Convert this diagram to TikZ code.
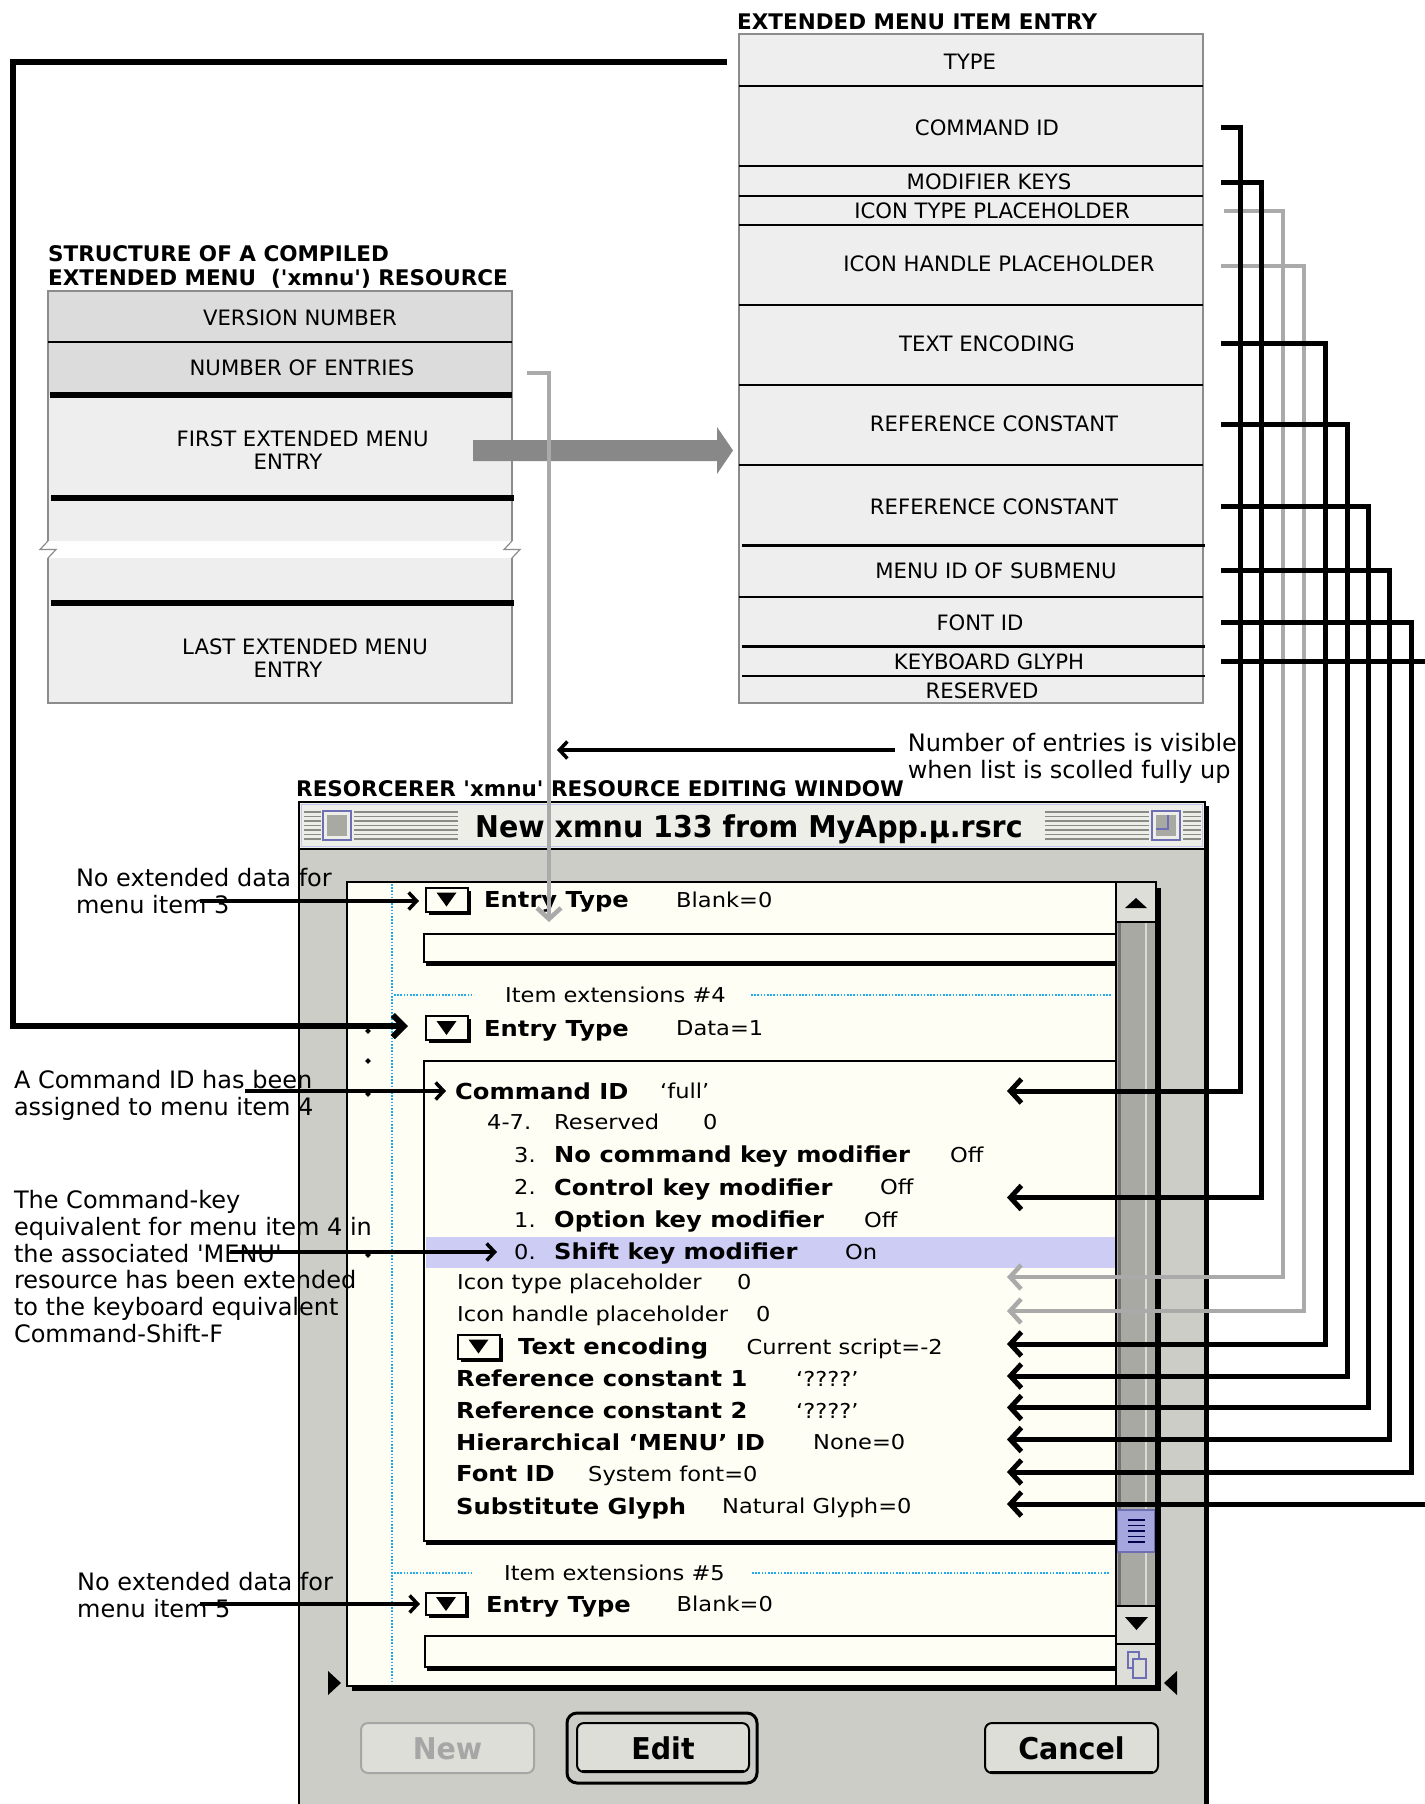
\documentclass[tikz,border=0pt]{standalone}
\usepackage{fontspec}
\newfontfamily\dvfont{DejaVu Sans}
\newfontfamily\macfont[FakeStretch=1.1]{DejaVu Sans}
\newfontfamily\condfont[FakeStretch=0.95]{DejaVu Sans}
\usetikzlibrary{arrows.meta,shadows}
\definecolor{boxfill}{HTML}{EEEEEE}
\definecolor{hdrfill}{HTML}{DCDCDC}
\definecolor{conngray}{HTML}{AAAAAA}
\definecolor{bigarrow}{HTML}{888888}
\definecolor{winbg}{HTML}{CDCDC7}
\definecolor{titlebg}{HTML}{EEEEE8}
\definecolor{lav}{HTML}{C4C4F0}
\definecolor{lavdark}{HTML}{6E6EB4}
\definecolor{cream}{HTML}{FEFEF4}
\definecolor{track}{HTML}{A9A9A3}
\definecolor{thumbc}{HTML}{A6A6DE}
\definecolor{hilite}{HTML}{CCCCF4}
\definecolor{dotcyan}{HTML}{22AAEE}
\definecolor{btnfill}{HTML}{DEDED8}
\definecolor{stripec}{HTML}{8A8A86}
\definecolor{edgec}{HTML}{8C8C8C}
\tikzset{
  boxedge/.style={draw=edgec, line width=1.2pt},
  lbl/.style={inner sep=0pt, text height=15.5pt, text depth=0pt, font=\dvfont\fontsize{21.2}{25}\selectfont},
  ttl/.style={inner sep=0pt, anchor=base west, align=left, font=\dvfont\bfseries\fontsize{21.5}{24}\selectfont},
  note/.style={inner sep=0pt, anchor=base west, align=left, font=\dvfont\fontsize{24}{26.8}\selectfont},
  wb/.style={inner sep=0pt, anchor=west, text height=16pt, text depth=0pt, font=\macfont\bfseries\fontsize{22}{24}\selectfont},
  wr/.style={inner sep=0pt, anchor=west, text height=15pt, text depth=0pt, font=\macfont\fontsize{20.5}{24}\selectfont},
  btn/.style={inner sep=0pt, text height=22pt, text depth=0pt, font=\condfont\bfseries\fontsize{30}{32}\selectfont},
  tribox/.style={draw, line width=2pt, fill=cream, minimum width=42pt, minimum height=24pt, inner sep=0pt,
    drop shadow={shadow xshift=3pt, shadow yshift=-3pt, opacity=1, fill=black}},
  fieldbox/.style={draw, line width=2pt, fill=cream, drop shadow={shadow xshift=2pt, shadow yshift=-4pt, opacity=1, fill=black}},
  stripe/.style={draw=stripec, line width=1.3pt},
  dotline/.style={draw=dotcyan, line width=2pt, dash pattern=on 1.6pt off 1.6pt},
  bconn/.style={line width=5pt, -{Straight Barb[length=11pt,width=24pt]}},
  gconn/.style={line width=4.5pt, draw=conngray, -{Straight Barb[length=11pt,width=24pt]}},
  thin arrow/.style={line width=3.5pt, -{Straight Barb[length=8pt,width=17pt]}},
}
\begin{document}
\begin{tikzpicture}[x=1pt,y=-1pt,font=\dvfont]
\useasboundingbox (0,0) rectangle (1424,1804);
\fill[white] (0,0) rectangle (1424,1804);

% ---------------- left structure box ----------------
\node[ttl] (ltitle) at (48,285.6) {STRUCTURE OF A COMPILED\\EXTENDED MENU\ \ ('xmnu') RESOURCE};
\fill[hdrfill] (48,291) rectangle (512,395);
\fill[boxfill] (48,395) rectangle (512,541);
\fill[boxfill] (48,558) rectangle (512,703);
\draw[boxedge] (48,541) -- (48,291) -- (512,291) -- (512,541);
\draw[boxedge] (48,558) -- (48,703) -- (512,703) -- (512,558);
\draw[boxedge] (48,541) -- (40,549.5) -- (56,549.5) -- (48,558);
\draw[boxedge] (512,541) -- (504,549.5) -- (520,549.5) -- (512,558);
\draw[line width=2.5pt] (48,342) -- (512,342);
\draw[line width=5.5pt] (50,395) -- (512,395);
\draw[line width=5.5pt] (51,498) -- (514,498);
\draw[line width=5.5pt] (51,603) -- (514,603);
\node[lbl] (lver) at (300,318) {VERSION NUMBER};
\node[lbl] (lnum) at (302,368) {NUMBER OF ENTRIES};
\node[lbl] (lfirstA) at (302.6,438.5) {FIRST EXTENDED MENU};
\node[lbl] (lfirstB) at (288,462) {ENTRY};
\node[lbl] (llastA) at (305,646.5) {LAST EXTENDED MENU};
\node[lbl] (llastB) at (288,670) {ENTRY};

% ---------------- right entry box ----------------
\node[ttl] (rtitle) at (737,29.8) {EXTENDED MENU ITEM ENTRY};
\fill[boxfill] (739,34) rectangle (1203,703);
\draw[boxedge] (739,34) rectangle (1203,703);
\foreach \yy in {86,166,196,225,305,385,465,597}
  \draw[line width=2.5pt] (739,\yy) -- (1203,\yy);
\foreach \yy in {545.5,646.5,676}
  \draw[line width=2.5pt] (742,\yy) -- (1205,\yy);
\node[lbl] (rType) at (970,62) {TYPE};
\node[lbl] (rCmd) at (987,128) {COMMAND ID};
\node[lbl] (rMod) at (989,182) {MODIFIER KEYS};
\node[lbl] (rIconT) at (992,211) {ICON TYPE PLACEHOLDER};
\node[lbl] (rIconH) at (999,264) {ICON HANDLE PLACEHOLDER};
\node[lbl] (rEnc) at (987,344) {TEXT ENCODING};
\node[lbl] (rRef1) at (994,424) {REFERENCE CONSTANT};
\node[lbl] (rRef2) at (994,507) {REFERENCE CONSTANT};
\node[lbl] (rMenu) at (996,571) {MENU ID OF SUBMENU};
\node[lbl] (rFont) at (980,622.5) {FONT ID};
\node[lbl] (rKey) at (989,662) {KEYBOARD GLYPH};
\node[lbl] (rRes) at (982,691) {RESERVED};

% big gray arrow
\fill[bigarrow] (473,440) -- (717,440) -- (717,427) -- (733,450.5) -- (717,474) -- (717,461) -- (473,461) -- cycle;

% ---------------- window ----------------
\node[ttl] (wlabel) at (296,796) {RESORCERER 'xmnu' RESOURCE EDITING WINDOW};
\fill[winbg] (299,802) rectangle (1205,1804);
\fill[titlebg] (300,803) rectangle (1204,848);
\draw[lav, line width=1.5pt] (301.5,804.5) rectangle (1202.5,846.5);
\foreach \yy in {812,816.5,821,825.5,830,834.5,839} {
  \draw[stripe] (304,\yy) -- (321,\yy);
  \draw[stripe] (354,\yy) -- (458,\yy);
  \draw[stripe] (1045,\yy) -- (1149,\yy);
  \draw[stripe] (1183,\yy) -- (1201,\yy);
}
\draw[line width=2pt, draw=lavdark, fill=titlebg] (323,811) rectangle (351,840);
\fill[track] (327,815) rectangle (347,836);
\draw[line width=2pt, draw=lavdark, fill=titlebg] (1152,811) rectangle (1180,840);
\fill[track] (1156,815) rectangle (1176,836);
\draw[line width=1.5pt, draw=lavdark] (1156,829) -- (1168,829) -- (1168,815);
\draw[line width=2pt] (299,1804) -- (299,802) -- (1205,802) -- (1205,1804);
\fill (1204,806) rectangle (1209,1804);
\draw[line width=2pt] (299,849) -- (1205,849);
\node[inner sep=0pt, anchor=west, text height=21.7pt, text depth=0pt, font=\condfont\bfseries\fontsize{30}{32}\selectfont] (wtitle) at (475,826.5) {New xmnu 133 from MyApp.µ.rsrc};

% list panel
\fill[cream] (347,883) rectangle (1116,1685);
\draw[dotline] (392,884) -- (392,1684);
\foreach \yy in {1031,1061,1094,1255}
  \fill (368,\yy-2.8) -- (370.8,\yy) -- (368,\yy+2.8) -- (365.2,\yy) -- cycle;

% entry 3
\node[tribox] (tb1) at (446.5,899.5) {};
\node[wb] (et1) at (484,899.5) {Entry Type};
\node[wr] (bl1) at (676,899.5) {Blank=0};
\draw[fieldbox] (424,934) rectangle (1116,962);

% entry 4
\draw[dotline] (394,994.5) -- (474,994.5);
\draw[dotline] (751,994.5) -- (1112,994.5);
\node[wr] (ie4) at (505,994.5) {Item extensions \#4};
\node[tribox] (tb2) at (446.5,1028) {};
\node[wb] (et2) at (484,1028) {Entry Type};
\node[wr] (dt1) at (676,1028) {Data=1};
\draw[fieldbox] (424,1061) rectangle (1116,1541);
\fill[hilite] (426,1237) rectangle (1115,1268);
\node[wb] (cid) at (455,1091) {Command ID};
\node[wr] (cidv) at (660,1091) {‘full’};
\node[wr] (r47) at (487,1122) {4-7.};
\node[wr] (res) at (554,1122) {Reserved};
\node[wr] (resv) at (703,1122) {0};
\node[wr] (m3n) at (514,1154.5) {3.};
\node[wb] (m3) at (554,1154.5) {No command key modifier};
\node[wr] (m3v) at (950,1154.5) {Off};
\node[wr] (m2n) at (514,1187) {2.};
\node[wb] (m2) at (554,1187) {Control key modifier};
\node[wr] (m2v) at (880,1187) {Off};
\node[wr] (m1n) at (514,1219.5) {1.};
\node[wb] (m1) at (554,1219.5) {Option key modifier};
\node[wr] (m1v) at (864,1219.5) {Off};
\node[wr] (m0n) at (514,1251.5) {0.};
\node[wb] (m0) at (554,1251.5) {Shift key modifier};
\node[wr] (m0v) at (845,1251.5) {On};
\node[wr] (itp) at (457,1282) {Icon type placeholder};
\node[wr] (itpv) at (737,1282) {0};
\node[wr] (ihp) at (457,1314) {Icon handle placeholder};
\node[wr] (ihpv) at (756,1314) {0};
\node[tribox] (tb3) at (478.5,1346.5) {};
\node[wb] (tenc) at (518,1346.5) {Text encoding};
\node[wr] (tencv) at (746.5,1346.5) {Current script=-2};
\node[wb] (rc1) at (456,1378.5) {Reference constant 1};
\node[wr] (rc1v) at (796,1378.5) {‘????’};
\node[wb] (rc2) at (456,1410.5) {Reference constant 2};
\node[wr] (rc2v) at (796,1410.5) {‘????’};
\node[wb] (hmid) at (456,1442) {Hierarchical ‘MENU’ ID};
\node[wr] (hmidv) at (813,1442) {None=0};
\node[wb] (fid) at (456,1473.5) {Font ID};
\node[wr] (fidv) at (588,1473.5) {System font=0};
\node[wb] (sg) at (456,1506) {Substitute Glyph};
\node[wr] (sgv) at (722,1506) {Natural Glyph=0};

% entry 5
\draw[dotline] (394,1572.5) -- (472,1572.5);
\draw[dotline] (752,1572.5) -- (1110,1572.5);
\node[wr] (ie5) at (504,1572.5) {Item extensions \#5};
\node[tribox, minimum width=40pt, minimum height=22pt] (tb4) at (446,1604) {};
\node[wb] (et5) at (486,1604) {Entry Type};
\node[wr] (bl5) at (676.5,1604) {Blank=0};
\draw[fieldbox] (425,1636) rectangle (1116,1667);

% disclosure triangles
\foreach \b in {tb1,tb2,tb3,tb4}
  \fill (\b.center) ++(-10,-7) -- ++(20,0) -- ++(-10,14) -- cycle;

% scroll bar
\fill[track] (1117,883) rectangle (1155,1685);
\draw[draw=black!55, line width=2.5pt] (1119.5,922) -- (1119.5,1606);
\draw[draw=black!15, line width=2pt] (1146,922) -- (1146,1606);
\fill[btnfill] (1117,883) rectangle (1155,921);
\draw[line width=1.5pt] (1117,922) -- (1155,922);
\fill (1125,908) -- (1147,908) -- (1136,898) -- cycle;
\fill[btnfill] (1117,1606) rectangle (1155,1643);
\draw[line width=1.5pt] (1117,1606) -- (1155,1606);
\draw[line width=1.5pt] (1117,1644) -- (1155,1644);
\fill (1125,1617) -- (1148,1617) -- (1136.5,1630) -- cycle;
\fill[btnfill] (1117,1645) rectangle (1155,1685);
\draw[draw=lavdark, line width=1.5pt] (1128,1652) rectangle (1139,1668);
\draw[draw=lavdark, line width=1.5pt, fill=btnfill] (1133,1659) rectangle (1146,1678);
\draw[draw=lavdark, fill=thumbc, line width=1.5pt] (1117,1510) rectangle (1155,1552);
\foreach \yy in {1520,1525.5,1531,1536.5,1542}
  \draw[draw=black!70!blue, line width=1.3pt] (1128,\yy) -- (1145,\yy);
\draw[line width=2pt] (1116,882) -- (1116,1686);
\draw[line width=2pt] (347,1686) -- (347,882) -- (1156,882) -- (1156,1686) -- cycle;
\fill (1156,888) rectangle (1161,1691);
\fill (352,1686) rectangle (1161,1691);
\fill (328,1671) -- (341,1683) -- (328,1695) -- cycle;
\fill (1177,1671) -- (1164,1683) -- (1177,1695) -- cycle;

% buttons
\draw[draw=black!35, line width=2pt, fill=btnfill, rounded corners=7pt] (361,1723) rectangle (534,1773);
\node[btn, text=black!35] (bnew) at (447.5,1748) {New};
\draw[line width=3pt, rounded corners=10pt] (567,1713) rectangle (757,1783);
\draw[line width=2pt, fill=btnfill, rounded corners=7pt] (577,1723) rectangle (749,1772);
\draw[line width=3pt] (582,1771) -- (744,1771);
\node[btn] (bedit) at (663,1748) {Edit};
\draw[line width=2pt, fill=btnfill, rounded corners=7pt] (985,1723) rectangle (1158,1773);
\draw[line width=3pt] (990,1772) -- (1153,1772);
\node[btn] (bcancel) at (1071.5,1748) {Cancel};

% ---------------- connectors ----------------
\coordinate (numR) at (527,373);
\coordinate (numT) at (549,922);
\draw[gconn] (numR) -| (numT);

\foreach \n/\ya/\xv/\yb/\xs in {3/211/1283/1277/1224, 4/266/1304/1311/1221} {
  \coordinate (s\n) at (\xs,\ya);
  \coordinate (t\n) at (1007,\yb);
  \draw[gconn] (s\n) -- (\xv,\ya) -- (\xv,\yb) -- (t\n);
}
\foreach \n/\ya/\xv/\yb in {1/127/1240/1091, 2/182/1261/1197.5, 5/343/1325/1344, 6/424/1347/1376,
   7/506/1368/1407.5, 8/570/1389.5/1439.5, 9/622/1411/1472, 10/661/1440/1504} {
  \coordinate (s\n) at (1221,\ya);
  \coordinate (t\n) at (1007,\yb);
  \draw[bconn] (s\n) -- (\xv,\ya) -- (\xv,\yb) -- (t\n);
}

\coordinate (typeL) at (727,62);
\coordinate (et4tip) at (408,1026);
\draw[line width=6pt, -{Straight Barb[length=11pt,width=22pt]}] (typeL) -- (13,62) -- (13,1026) -- (et4tip);

% ---------------- notes ----------------
\node[note] (nvis) at (907.6,778) {Number of entries is visible\\when list is scolled fully up};
\coordinate (nvisL) at (895,750);
\coordinate (nvisT) at (557,750);
\draw[thin arrow] (nvisL) -- (nvisT);

\node[note] (n3) at (75.8,913) {No extended data for\\menu item 3};
\coordinate (n3a) at (200,901);
\coordinate (n3b) at (419,901);
\draw[thin arrow] (n3a) -- (n3b);

\node[note] (ncmd) at (13.8,1115) {A Command ID has been\\assigned to menu item 4};
\coordinate (ncmda) at (245,1091);
\coordinate (ncmdb) at (446,1091);
\draw[thin arrow] (ncmda) -- (ncmdb);

\node[note] (nkey) at (13.8,1342.5) {The Command-key\\equivalent for menu item 4 in\\the associated 'MENU'\\resource has been extended\\to the keyboard equivalent\\Command-Shift-F};
\coordinate (nkeya) at (230,1252);
\coordinate (nkeyb) at (497,1252);
\draw[thin arrow] (nkeya) -- (nkeyb);

\node[note] (n5) at (77,1617) {No extended data for\\menu item 5};
\coordinate (n5a) at (200,1604);
\coordinate (n5b) at (420,1604);
\draw[thin arrow] (n5a) -- (n5b);
\end{tikzpicture}
\end{document}
